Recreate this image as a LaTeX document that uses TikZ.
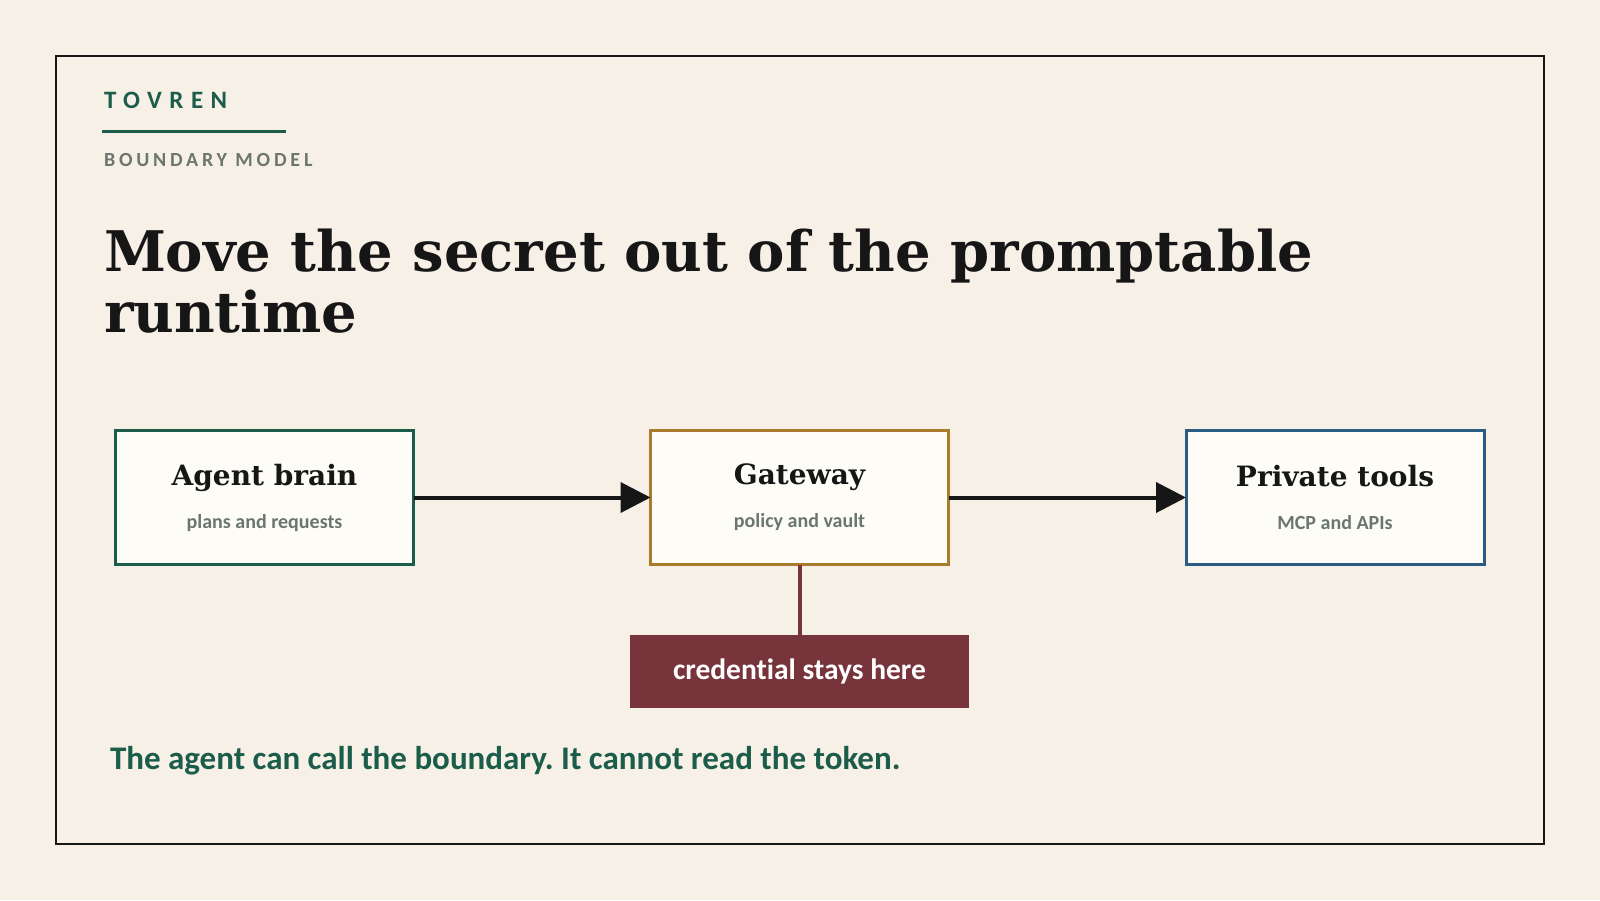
\documentclass[tikz,border=0pt]{standalone}
\usepackage{fontspec}
\setmainfont{Carlito}[Ligatures=NoCommon]
\newfontfamily\headserif{DejaVu Serif}
\usetikzlibrary{arrows.meta,positioning}
\frenchspacing

\definecolor{paper}{HTML}{F7F0E7}
\definecolor{ink}{HTML}{161616}
\definecolor{pine}{HTML}{1B5C4A}
\definecolor{slate}{HTML}{6B766F}
\definecolor{ochre}{HTML}{A87C2C}
\definecolor{harbor}{HTML}{2B5D84}
\definecolor{wine}{HTML}{77343A}
\definecolor{cardfill}{HTML}{FDFCF7}

\newcommand{\stagetitle}[1]{{\headserif\bfseries\fontsize{28}{32}\selectfont\color{ink}#1}}

\begin{document}
\begin{tikzpicture}[
  x=1pt,y=-1pt,
  every node/.style={inner sep=0pt,outer sep=0pt},
  brand/.style={anchor=base west,text=pine,font=\fontsize{25}{28}\selectfont\bfseries\addfontfeature{LetterSpace=30}},
  kicker/.style={anchor=base west,text=slate,font=\fontsize{20}{24}\selectfont\bfseries\addfontfeature{LetterSpace=19}},
  headline/.style={anchor=base west,align=left,text=ink,font=\headserif\bfseries\fontsize{56}{61}\selectfont},
  stage/.style={draw,line width=3pt,fill=cardfill,minimum width=298pt,minimum height=134pt,
                align=center,text=slate,font=\fontsize{20}{24}\selectfont\bfseries},
  vaultnote/.style={fill=wine,minimum width=339pt,minimum height=73pt,text=white,
                    font=\fontsize{29.5}{33}\selectfont\bfseries},
  takeaway/.style={anchor=base west,text=pine,font=\fontsize{33}{37}\selectfont\bfseries},
  to/.style={-{Triangle[length=30pt,width=30pt]},line width=4pt,draw=ink},
  tie/.style={line width=4pt,draw=wine}]

  % page and frame
  \fill[paper] (0,0) rectangle (1600,900);
  \draw[ink,line width=2pt] (56,56) rectangle (1544,844);

  % heading block
  \node[brand]  (Brand)  at (104,108) {TOVREN};
  \draw[pine,line width=3pt] (102,131.5) -- (286,131.5);
  \node[kicker] (Kicker) at (104,166) {BOUNDARY MODEL};
  \node[headline] (Headline) at (104,332) {Move the secret out of the promptable\\runtime};

  % the three stages
  \node[stage,draw=pine]   (AgentBrain)   at (264.5,497.5)
        {\stagetitle{Agent brain}\\[19pt]plans and requests};
  \node[stage,draw=ochre]  (Gateway)      at (799.5,497.5)
        {\stagetitle{Gateway}\\[19pt]policy and vault};
  \node[stage,draw=harbor] (PrivateTools) at (1335,497.5)
        {\stagetitle{Private tools}\\[19pt]MCP and APIs};

  \node[vaultnote,below=70pt of Gateway] (Credential) {credential stays here};

  \node[takeaway] (Takeaway) at (110,769)
        {The agent can call the boundary. It cannot read the token.};

  % connectors
  \draw[to]  (AgentBrain.east) -- (Gateway.west);
  \draw[to]  (Gateway.east)    -- (PrivateTools.west);
  \draw[tie] (Gateway.south)   -- (Credential.north);
\end{tikzpicture}
\end{document}
